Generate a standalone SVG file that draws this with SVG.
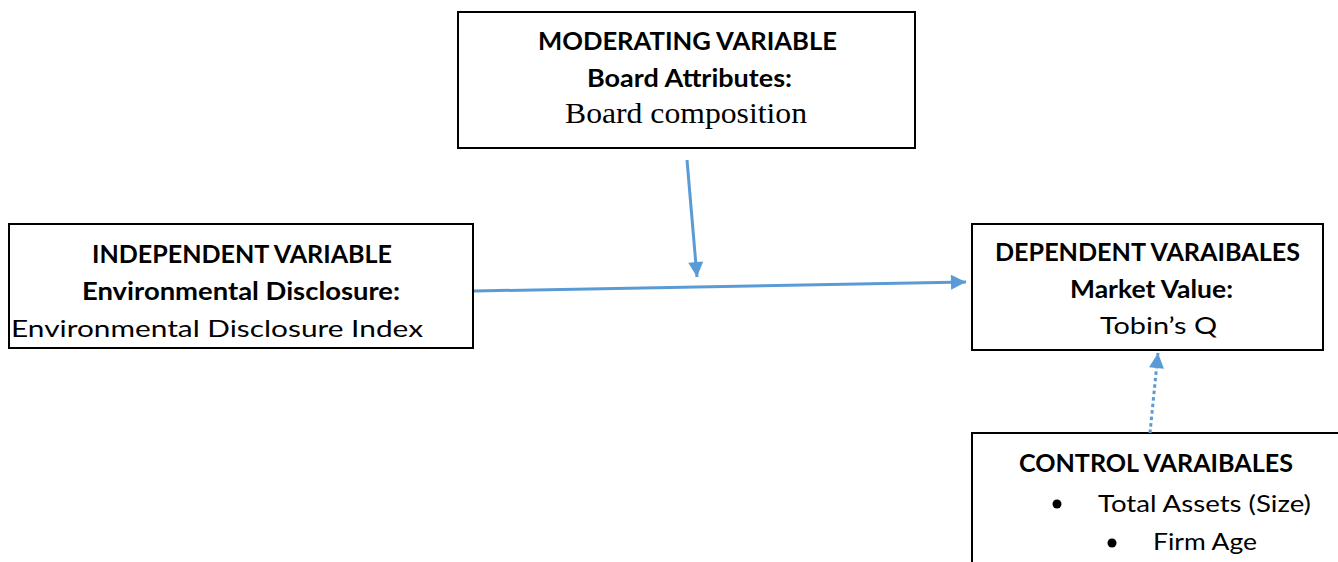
<svg xmlns="http://www.w3.org/2000/svg" width="1338" height="562" viewBox="0 0 1338 562">
<defs>
<style>
.box{fill:#fff;stroke:#000;stroke-width:2}
.b{font-family:Lato,"Liberation Sans",sans-serif;font-weight:bold;font-size:24px;fill:#000}
.r{font-family:Lato,"Liberation Sans",sans-serif;font-size:24px;fill:#000}
.s{font-family:"Liberation Serif",serif;font-size:29px;fill:#000}
.c{fill:none;stroke:#5B9BD5;stroke-width:3}
</style>
<marker id="ah" viewBox="0 0 10 10" refX="10" refY="5" markerWidth="16" markerHeight="15" markerUnits="userSpaceOnUse" orient="auto">
<path d="M0,0 L10,5 L0,10 Z" fill="#5B9BD5"/>
</marker>
</defs>
<rect width="1338" height="562" fill="#fff"/>
<g id="moderating">
<rect class="box" x="458" y="12" width="457" height="136"/>
<text class="b" x="538" y="50" textLength="299" lengthAdjust="spacingAndGlyphs">MODERATING VARIABLE</text>
<text class="b" x="587" y="87" textLength="205" lengthAdjust="spacingAndGlyphs">Board Attributes:</text>
<text class="s" x="565" y="123" textLength="242" lengthAdjust="spacingAndGlyphs">Board composition</text>
</g>
<g id="independent">
<rect class="box" x="9" y="224" width="464" height="124"/>
<text class="b" x="92" y="263" textLength="300" lengthAdjust="spacingAndGlyphs">INDEPENDENT VARIABLE</text>
<text class="b" x="82" y="300" textLength="318" lengthAdjust="spacingAndGlyphs">Environmental Disclosure:</text>
<text class="r" x="11" y="337" textLength="412" lengthAdjust="spacingAndGlyphs">Environmental Disclosure Index</text>
</g>
<g id="dependent">
<rect class="box" x="972" y="224" width="351" height="126"/>
<text class="b" x="995" y="261" textLength="305" lengthAdjust="spacingAndGlyphs">DEPENDENT VARAIBALES</text>
<text class="b" x="1070" y="298" textLength="163" lengthAdjust="spacingAndGlyphs">Market Value:</text>
<text class="r" x="1100" y="334" textLength="117" lengthAdjust="spacingAndGlyphs">Tobin’s Q</text>
</g>
<g id="control">
<rect class="box" x="972" y="433" width="380" height="140"/>
<text class="b" x="1019" y="472" textLength="274" lengthAdjust="spacingAndGlyphs">CONTROL VARAIBALES</text>
<circle cx="1057" cy="504" r="4.5" fill="#000"/>
<text class="r" x="1098" y="512" textLength="213" lengthAdjust="spacingAndGlyphs">Total Assets (Size)</text>
<circle cx="1112" cy="543" r="4.5" fill="#000"/>
<text class="r" x="1153" y="550" textLength="104" lengthAdjust="spacingAndGlyphs">Firm Age</text>
</g>
<g id="connectors">
<line class="c" x1="474" y1="291" x2="966" y2="282" marker-end="url(#ah)"/>
<line class="c" x1="687" y1="160" x2="697" y2="277" marker-end="url(#ah)"/>
<line class="c" x1="1150" y1="433" x2="1158" y2="353" stroke-width="3.5" stroke-dasharray="3.5 3" marker-end="url(#ah)"/>
</g>
</svg>
